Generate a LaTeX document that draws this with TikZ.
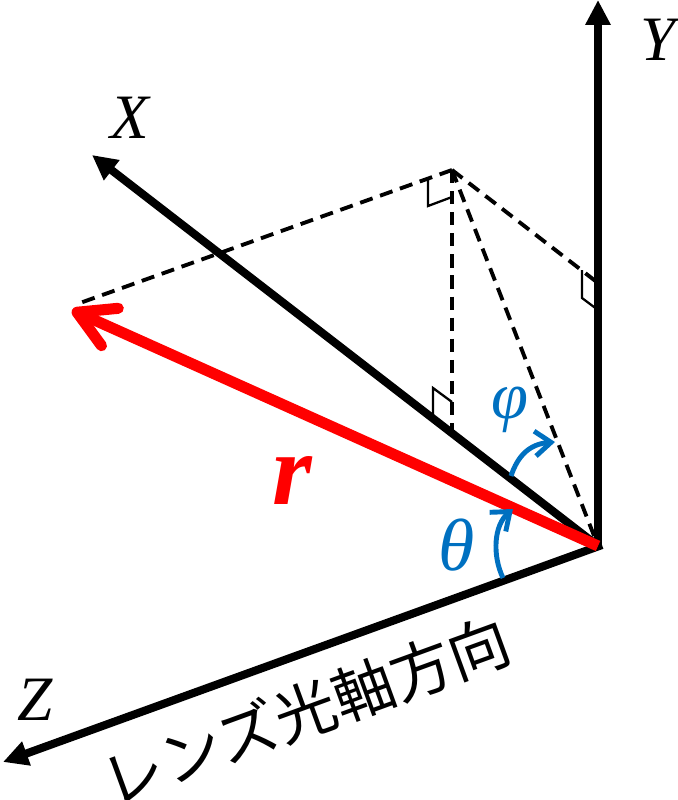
\documentclass[tikz,border=0pt]{standalone}
\usepackage{fontspec}
\setmainfont{Liberation Serif}
\newfontfamily\jpfont{Noto Sans CJK JP}
\usetikzlibrary{arrows.meta}
\definecolor{angleblue}{RGB}{0,112,192}
\definecolor{vecred}{RGB}{255,0,0}

\begin{document}
\begin{tikzpicture}[
    x=0.02cm, y=-0.02cm,
    axis/.style={line width=4.6pt, -{Triangle[length=0.5cm, width=0.48cm]}},
    helper/.style={line width=2.2pt, dash pattern=on 7.5pt off 4.5pt},
    rightangle/.style={line width=1.3pt},
    anglearrow/.style={line width=2.8pt, angleblue, -{Straight Barb[length=0.32cm, width=0.5cm]}},
    axislabel/.style={font=\fontsize{36}{36}\selectfont\itshape},
    greeklabel/.style={text=angleblue, font=\fontsize{42}{42}\selectfont\itshape},
]
    \useasboundingbox (0,0) rectangle (677,800);

    % points
    \coordinate (O) at (598,546);
    \coordinate (xend) at (92,155);
    \coordinate (yend) at (598,0);
    \coordinate (zend) at (3,762);
    \coordinate (rtip) at (72,310);
    \coordinate (rdash) at (80,303);
    \coordinate (P) at (452,170);
    \coordinate (px) at (452,432);
    \coordinate (py) at (598,283);

    % dashed construction lines
    \draw[helper] (P) -- (rdash);
    \draw[helper] (P) -- (px);
    \draw[helper] (P) -- (py);
    \draw[helper] (P) -- (O);

    % right angle marks
    \draw[rightangle] (428,179) -- (428,206) -- (452,197);
    \draw[rightangle] (582,270) -- (582,298) -- (598,310);
    \draw[rightangle] (433,418) -- (433,388) -- (452,402);

    % axes
    \draw[axis] (598,548) -- (yend);
    \draw[axis] (O) -- (xend);
    \draw[axis] (602,545) -- (zend);

    % vector r
    \draw[vecred, line width=6.3pt, -{Straight Barb[length=0.72cm, width=0.82cm, round]}] (O) -- (rtip);

    % angles
    \draw[anglearrow] (511,476) .. controls (518,455) and (530,444) .. (555,442);
    \draw[anglearrow] (503,578) .. controls (492,555) and (494,525) .. (513,509);

    % labels
    \node[axislabel] (xlab) at (130,118) {X};
    \node[axislabel] (ylab) at (658,40) {Y};
    \node[axislabel] (zlab) at (35,700) {Z};
    \node[text=vecred, font=\fontsize{58}{58}\selectfont\bfseries\itshape] (rlab) at (292,480) {r};
    \node[greeklabel, font=\fontsize{38}{38}\selectfont\itshape] (philab) at (510,410) {φ};
    \node[greeklabel] (thetalab) at (457,545) {θ};
    \node[rotate=20, font=\fontsize{35}{35}\selectfont\jpfont] (zname) at (306,711) {レンズ光軸方向};
\end{tikzpicture}
\end{document}
